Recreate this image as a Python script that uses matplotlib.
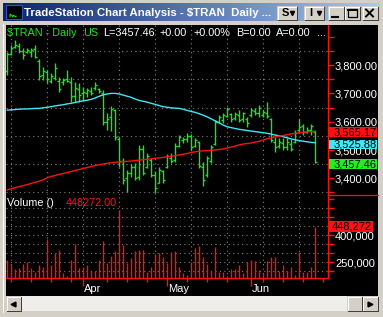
import numpy as np
import matplotlib
matplotlib.use('Agg')
import matplotlib.pyplot as plt
from matplotlib.patches import Rectangle
from matplotlib.colors import LinearSegmentedColormap
from matplotlib.transforms import blended_transform_factory

plt.rcParams['font.family'] = ['Liberation Sans', 'DejaVu Sans']

# ---- data: daily $TRAN bars, early March to late June ----
highs = [3847, 3871, 3889, 3879, 3860, 3860, 3860, 3871, 3821, 3794,
         3783, 3772, 3807, 3758, 3754, 3783, 3758, 3740, 3737, 3723,
         3719, 3723, 3740, 3719, 3712, 3630, 3655, 3645, 3546, 3471,
         3429, 3450, 3454, 3518, 3518, 3489, 3471, 3426, 3440, 3429,
         3486, 3489, 3525, 3553, 3546, 3560, 3557, 3543, 3532, 3458,
         3479, 3518, 3606, 3624, 3631, 3652, 3631, 3634, 3641, 3634,
         3617, 3648, 3648, 3659, 3641, 3670, 3613, 3546, 3543, 3543,
         3543, 3539, 3571, 3610, 3592, 3581, 3592, 3571]
lows = [3765, 3836, 3860, 3843, 3821, 3843, 3830, 3825, 3747, 3747,
        3737, 3737, 3747, 3705, 3730, 3740, 3670, 3670, 3670, 3677,
        3688, 3694, 3712, 3701, 3588, 3571, 3567, 3535, 3440, 3380,
        3352, 3404, 3394, 3394, 3412, 3436, 3404, 3348, 3383, 3383,
        3436, 3454, 3458, 3511, 3525, 3528, 3500, 3511, 3436, 3373,
        3404, 3454, 3518, 3595, 3595, 3617, 3600, 3606, 3600, 3600,
        3581, 3617, 3624, 3617, 3617, 3613, 3528, 3493, 3507, 3500,
        3500, 3496, 3525, 3560, 3553, 3560, 3553, 3454]
opens = [3780, 3840, 3865, 3868, 3850, 3845, 3848, 3858, 3815, 3765,
         3775, 3745, 3755, 3745, 3740, 3750, 3740, 3690, 3715, 3700,
         3700, 3708, 3718, 3715, 3700, 3600, 3615, 3640, 3540, 3462,
         3400, 3420, 3440, 3405, 3505, 3440, 3465, 3412, 3385, 3425,
         3440, 3470, 3465, 3515, 3535, 3540, 3550, 3515, 3530, 3440,
         3410, 3460, 3520, 3600, 3605, 3620, 3628, 3612, 3625, 3608,
         3610, 3622, 3638, 3630, 3625, 3630, 3610, 3530, 3515, 3525,
         3510, 3520, 3530, 3570, 3585, 3565, 3570, 3565]
closes = [3840, 3862, 3870, 3850, 3835, 3852, 3855, 3830, 3760, 3780,
          3750, 3760, 3790, 3715, 3748, 3745, 3690, 3720, 3695, 3705,
          3712, 3700, 3730, 3708, 3598, 3610, 3645, 3545, 3460, 3395,
          3420, 3440, 3400, 3505, 3420, 3480, 3412, 3365, 3430, 3395,
          3478, 3460, 3515, 3545, 3540, 3548, 3510, 3535, 3445, 3395,
          3470, 3510, 3600, 3615, 3625, 3645, 3610, 3628, 3605, 3630,
          3595, 3640, 3630, 3650, 3635, 3620, 3535, 3510, 3530, 3510,
          3530, 3505, 3560, 3580, 3565, 3572, 3585, 3457.46]
# volume in thousands
volumes = [263, 241, 213, 219, 241, 252, 219, 198, 235, 226,
           379, 233, 300, 318, 192, 176, 263, 352, 219, 226,
           235, 203, 203, 263, 368, 248, 285, 313, 540, 346,
           248, 272, 313, 318, 318, 198, 226, 296, 303, 281,
           248, 309, 314, 222, 189, 179, 253, 328, 341, 281,
           241, 203, 337, 198, 198, 174, 213, 211, 235, 192,
           253, 263, 257, 207, 192, 259, 281, 281, 203, 235,
           203, 226, 178, 309, 198, 198, 226, 448.272]
ma_cyan = [3641, 3642, 3643, 3644, 3645, 3645, 3646, 3647, 3647, 3649,
           3651, 3653, 3656, 3658, 3660, 3663, 3665, 3668, 3671, 3674,
           3676, 3679, 3684, 3690, 3695, 3698, 3700, 3700, 3698, 3694,
           3690, 3686, 3680, 3675, 3672, 3669, 3665, 3661, 3657, 3653,
           3651, 3649, 3648, 3647, 3644, 3640, 3636, 3633, 3628, 3623,
           3617, 3610, 3603, 3596, 3588, 3582, 3579, 3576, 3573, 3571,
           3569, 3567, 3565, 3563, 3561, 3559, 3556, 3553, 3550, 3547,
           3543, 3539, 3536, 3533, 3531, 3529, 3527, 3525.88]
ma_red = [3359, 3363, 3367, 3371, 3374, 3378, 3382, 3386, 3390, 3395,
          3402, 3407, 3410, 3414, 3417, 3420, 3424, 3428, 3431, 3435,
          3438, 3442, 3445, 3448, 3451, 3453, 3455, 3457, 3458, 3459,
          3460, 3461, 3463, 3464, 3466, 3467, 3469, 3471, 3472, 3474,
          3476, 3478, 3480, 3483, 3485, 3488, 3491, 3494, 3496, 3497,
          3498, 3499, 3500, 3502, 3504, 3507, 3510, 3514, 3518, 3521,
          3523, 3525, 3528, 3531, 3535, 3540, 3543, 3546, 3549, 3551,
          3554, 3557, 3559, 3561, 3563, 3564, 3565, 3565.17]
week_ticks = [1, 6, 11, 16, 25, 30, 35, 45, 50, 55, 64, 69, 74, 79]
month_ticks = [19, 40, 61]
month_labels = ['Apr', 'May', 'Jun']
grid_bars = [1, 10, 19, 28, 37, 46, 55, 64, 73]
price_ticks = [3400, 3500, 3600, 3700, 3800]
vol_ticks = [250, 400]

W, H = 383, 317
GREEN = '#22e022'
CYAN = '#3ee8f2'
RED = '#ff1010'
GRAY = '#d4d0c8'
DOT = (0, (1, 3))


def frac(x0, y0, x1, y1):
    return [x0 / W, 1 - y1 / H, (x1 - x0) / W, (y1 - y0) / H]


def bevel(a, x0, y0, w, h):
    a.add_patch(Rectangle((x0, y0), w, h, fc=GRAY, ec='none', zorder=3))
    a.plot([x0 + 0.5, x0 + 0.5, x0 + w - 0.5], [y0 + h - 0.5, y0 + 0.5, y0 + 0.5],
           color='white', lw=0.72, zorder=4)
    a.plot([x0 + 0.5, x0 + w - 0.5, x0 + w - 0.5], [y0 + h - 0.5, y0 + h - 0.5, y0 + 0.5],
           color='#404040', lw=0.72, zorder=4)


fig = plt.figure(figsize=(W / 100, H / 100), dpi=100, facecolor=GRAY)

# window chrome, in pixel coordinates
ov = fig.add_axes([0, 0, 1, 1])
ov.axis('off')
ov.plot([2.5, 2.5], [24, 312], color='white', lw=0.72)
ov.add_patch(Rectangle((6, 24.5), 372, 271, fc='black', ec='none', zorder=1))
tb = LinearSegmentedColormap.from_list('tb', ['#0a246a', '#a6caf0'])
ov.imshow(np.linspace(0, 1, 256)[None, :], extent=(3, 380, 21.5, 3.5),
          aspect='auto', cmap=tb, zorder=1)
ov.add_patch(Rectangle((6, 5), 16, 14, fc='black', ec='#3050c0', lw=0.8, zorder=2))
ov.plot([10, 10, 13, 13, 16, 16], [17, 14, 17, 15, 17, 16], color=GREEN, lw=0.7, zorder=3)
ov.text(24, 12.8, 'TradeStation Chart Analysis - $TRAN  Daily ...', color='white',
        fontweight='bold', fontsize=8.2, va='center', zorder=3)
bevel(ov, 277, 6, 20, 14)
ov.text(281.5, 13, 'S', fontweight='bold', fontsize=8, va='center', zorder=5)
ov.plot([291.5], [12.5], marker='v', ms=3.0, color='black', zorder=5)
bevel(ov, 304, 6, 20, 14)
ov.text(309, 13, 'I', fontweight='bold', fontsize=8, va='center', zorder=5)
ov.plot([318.5], [12.5], marker='v', ms=3.0, color='black', zorder=5)
bevel(ov, 328, 6, 16, 14)
ov.plot([332, 338], [16.5, 16.5], color='black', lw=1.5, zorder=5)
bevel(ov, 344, 6, 16, 14)
ov.add_patch(Rectangle((347.5, 9), 9, 8, fc='none', ec='black', lw=0.9, zorder=5))
ov.plot([347.5, 356.5], [9.5, 9.5], color='black', lw=1.4, zorder=5)
bevel(ov, 362, 6, 16, 14)
ov.plot([366, 373], [9.5, 16.5], color='black', lw=1.4, zorder=5)
ov.plot([366, 373], [16.5, 9.5], color='black', lw=1.4, zorder=5)

# scrollbar
ov.add_patch(Rectangle((6, 296), 372, 15, fc='#efeeea', ec='none', zorder=2))
bevel(ov, 6, 296, 15, 15)
ov.plot([13], [303.5], marker='<', ms=3.5, color='black', zorder=5)
bevel(ov, 347, 296, 15, 15)
bevel(ov, 362, 296, 16, 15)
ov.plot([370], [303.5], marker='>', ms=3.5, color='black', zorder=5)

# header texts
hdr = [(6.7, '$TRAN - Daily', GREEN), (83.5, 'US', GREEN), (102.7, 'L=3457.46', 'white'),
       (160, '+0.00', 'white'), (193, '+0.00%', 'white'), (236, 'B=0.00', 'white'),
       (276, 'A=0.00', 'white'), (316.5, '...', 'white')]
for hx, s, c in hdr:
    ov.text(hx, 33.5, s, color=c, fontsize=7.8, va='center', zorder=3)
ov.text(6.7, 203.5, 'Volume ()', color='white', fontsize=7.8, va='center', zorder=3)
ov.text(66, 203.5, '448272.00', color=RED, fontsize=7.8, va='center', zorder=3)
ov.plot([328, 378], [195, 195], color=RED, lw=0.9, zorder=3)
ov.set_xlim(0, W)
ov.set_ylim(H, 0)

# price panel
idx = np.arange(len(highs))
ax = fig.add_axes(frac(6, 25, 328, 195))
ax.set_facecolor('none')
ax.set_xlim(-0.325, 80.2)
ax.set_ylim(3341, 3941.7)
for g in grid_bars:
    ax.axvline(g, color='#808080', lw=0.8, ls=DOT, zorder=0)
for p in range(3350, 3900, 100):
    ax.axhline(p, color='#808080', lw=0.8, ls=DOT, zorder=0)
ax.vlines(idx, lows, highs, color=GREEN, lw=1.0)
ax.hlines(opens, idx - 0.55, idx, color=GREEN, lw=1.0)
ax.hlines(closes, idx, idx + 0.55, color=GREEN, lw=1.0)
ax.plot(idx, ma_cyan, color=CYAN, lw=1.0)
ax.plot(idx, ma_red, color=RED, lw=1.0)
for side in ['left', 'top', 'bottom']:
    ax.spines[side].set_visible(False)
ax.spines['right'].set_color(RED)
ax.spines['right'].set_linewidth(1.0)
ax.set_xticks([])
ax.yaxis.tick_right()
ax.set_yticks(price_ticks)
ax.set_yticklabels(['{:,.2f}'.format(p) for p in price_ticks])
ax.set_yticks(range(3350, 3950, 50), minor=True)
ax.tick_params(axis='y', which='both', colors=RED, labelcolor='white', length=4,
               width=1, pad=1, labelsize=8)

# last-value boxes on the price scale (shifted a little so they do not collide)
tr = blended_transform_factory(ax.transAxes, ax.transData)
boxes = [(ma_red[-1], 3563, RED), (ma_cyan[-1], 3520, CYAN), (closes[-1], 3450, '#22ee22')]
for val, ypos, c in boxes:
    ax.add_patch(Rectangle((1.003, ypos - 17), 0.149, 34, transform=tr, fc=c, ec='none',
                           clip_on=False, zorder=4))
    ax.text(1.017, ypos, '{:,.2f}'.format(val), transform=tr, color='black', fontsize=8,
            va='center', clip_on=False, zorder=5)

# volume panel
axv = fig.add_axes(frac(6, 195, 328, 278.3))
axv.set_facecolor('none')
axv.set_xlim(-0.325, 80.2)
axv.set_ylim(161.1, 623.9)
for g in grid_bars:
    axv.axvline(g, color='#808080', lw=0.8, ls=DOT, zorder=0)
for v in range(200, 600, 50):
    axv.axhline(v, color='#808080', lw=0.8, ls=DOT, zorder=0)
axv.vlines(idx, 161.1, volumes, color=RED, lw=1.0)
for side in ['left', 'top']:
    axv.spines[side].set_visible(False)
for side in ['right', 'bottom']:
    axv.spines[side].set_color(RED)
    axv.spines[side].set_linewidth(1.0)
axv.yaxis.tick_right()
axv.set_yticks(vol_ticks)
axv.set_yticklabels(['{:,}'.format(v * 1000) for v in vol_ticks])
axv.set_yticks(range(200, 650, 50), minor=True)
axv.tick_params(axis='y', which='both', colors=RED, labelcolor='white', length=4,
                width=1, pad=1, labelsize=8)
axv.set_xticks(month_ticks)
axv.set_xticklabels([])
axv.set_xticks(week_ticks, minor=True)
axv.tick_params(axis='x', which='major', colors=RED, length=6, width=1)
axv.tick_params(axis='x', which='minor', colors=RED, length=3, width=1)
trm = blended_transform_factory(axv.transData, axv.transAxes)
for t, lab in zip(month_ticks, month_labels):
    axv.text(t + 0.2, -0.125, lab, transform=trm, color='white', fontsize=8,
             va='center', ha='left', clip_on=False)
trv = blended_transform_factory(axv.transAxes, axv.transData)
axv.add_patch(Rectangle((1.0, 418), 0.14, 61, transform=trv, fc=RED, ec='none',
                        clip_on=False, zorder=4))
axv.text(1.013, 449, '{:,}'.format(int(round(volumes[-1] * 1000))), transform=trv,
         color='black', fontsize=8, va='center', clip_on=False, zorder=5)

plt.savefig('out.png', dpi=100, facecolor=GRAY)
